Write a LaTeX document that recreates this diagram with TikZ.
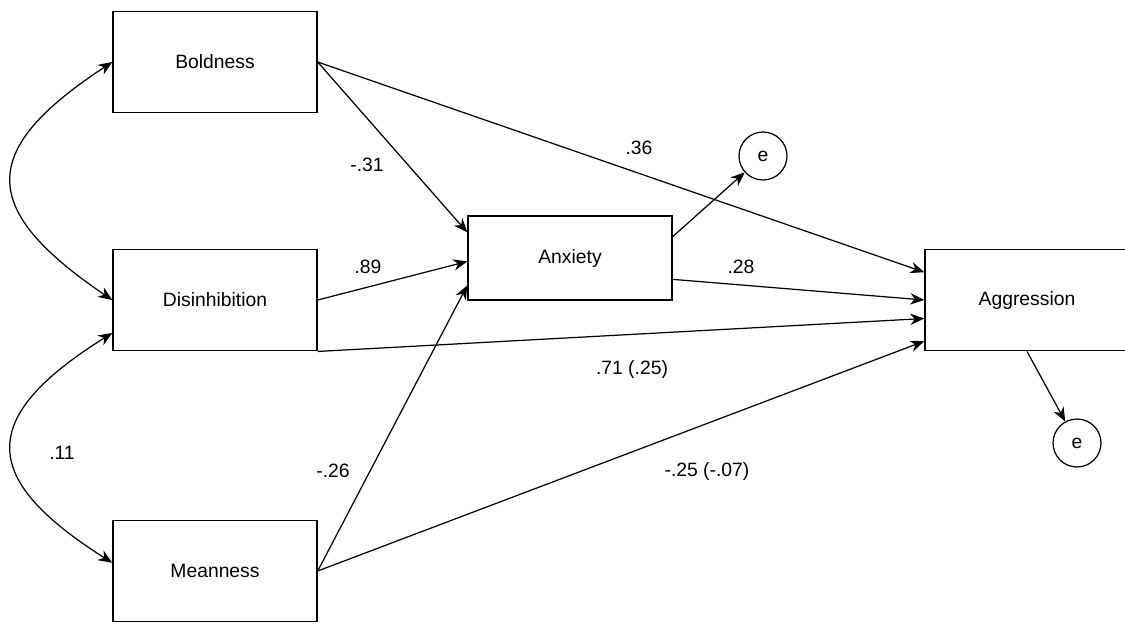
\documentclass[tikz,border=0pt]{standalone}
\usepackage{fontspec}
\setmainfont{Liberation Sans}
\usepackage{tikz}
\usetikzlibrary{arrows.meta,calc}

\begin{document}
\begin{tikzpicture}[
  x=0.02cm, y=-0.02cm,
  block/.style={draw, line width=0.8pt, minimum width=4.08cm, minimum height=2.03cm, align=center, font=\fontsize{11}{13}\selectfont},
  err/.style={draw, circle, line width=0.7pt, minimum size=0.96cm, inner sep=0pt, font=\fontsize{11}{13}\selectfont},
  lbl/.style={inner sep=1pt, font=\fontsize{11}{13}\selectfont},
  >={Stealth[length=8pt,width=6.5pt]}
]
\useasboundingbox (0,0) rectangle (1125,623);

% Nodes
\node[block] (bold) at (215,62) {Boldness};
\node[block] (dis) at (215,300) {Disinhibition};
\node[block] (mean) at (215,571) {Meanness};
\node[block, minimum height=1.68cm] (anx) at (570,258) {Anxiety};
\node[block] (agg) at (1027,300) {Aggression};
\node[err] (e1) at (763,156) {e};
\node[err] (e2) at (1077,443) {e};

% Points on the box sides
\coordinate (agg1) at ($(agg.north west)!0.23!(agg.south west)$);
\coordinate (agg2) at ($(agg.north west)!0.50!(agg.south west)$);
\coordinate (agg3) at ($(agg.north west)!0.68!(agg.south west)$);
\coordinate (agg4) at ($(agg.north west)!0.90!(agg.south west)$);
\coordinate (anx1) at ($(anx.north west)!0.20!(anx.south west)$);
\coordinate (anx2) at ($(anx.north west)!0.54!(anx.south west)$);
\coordinate (anx3) at ($(anx.north west)!0.82!(anx.south west)$);
\coordinate (anxo1) at ($(anx.north east)!0.25!(anx.south east)$);
\coordinate (anxo2) at ($(anx.north east)!0.75!(anx.south east)$);
\coordinate (dis2) at ($(dis.north west)!0.82!(dis.south west)$);
\coordinate (mean1) at ($(mean.north west)!0.42!(mean.south west)$);

% Connections
\draw[->, line width=0.7pt] (bold.east) -- (agg1);
\draw[->, line width=0.7pt] (bold.east) -- (anx1);
\draw[->, line width=0.7pt] (dis.east) -- (anx2);
\draw[->, line width=0.7pt] (dis.south east) -- (agg3);
\draw[->, line width=0.7pt] (mean.east) -- (anx3);
\draw[->, line width=0.7pt] (mean.east) -- (agg4);
\draw[->, line width=0.7pt] (anxo1) -- (e1);
\draw[->, line width=0.7pt] (anxo2) -- (agg2);
\draw[->, line width=0.7pt] (agg.south) -- (e2);

% Correlations
\draw[<->, line width=0.7pt] (bold.west) .. controls (-22,150) and (-22,209) .. (dis.west);
\draw[<->, line width=0.7pt] (dis2) .. controls (-22,417) and (-22,478) .. (mean1);

% Labels
\node[lbl] (l31) at (367,165) {-.31};
\node[lbl] (l36) at (639,148) {.36};
\node[lbl] (l89) at (368,267) {.89};
\node[lbl] (l28) at (741,267) {.28};
\node[lbl] (l71) at (632,369) {.71 (.25)};
\node[lbl] (l11) at (62,453) {.11};
\node[lbl] (l26) at (333,471) {-.26};
\node[lbl] (l25) at (707,471) {-.25 (-.07)};

\end{tikzpicture}
\end{document}
